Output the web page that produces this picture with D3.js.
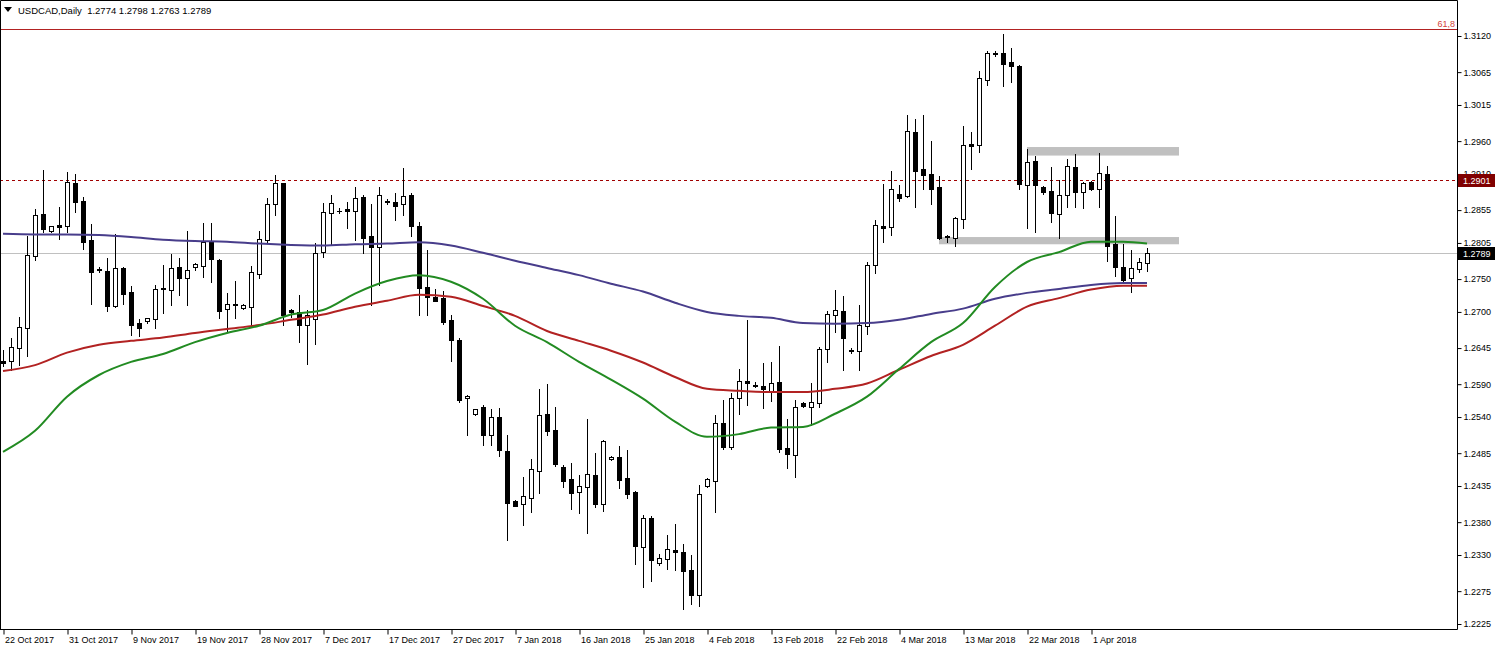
<!DOCTYPE html>
<html><head><meta charset="utf-8">
<script src="https://cdn.jsdelivr.net/npm/d3@7"></script>
<style>
html,body{margin:0;padding:0;background:#fff;}
svg{display:block;}
text{font-family:"Liberation Sans",Arial,sans-serif;}
</style>
</head><body>
<svg id="c" width="1497" height="649"></svg>
<script>
// ---------- DATA ----------
const symbol = "USDCAD,Daily";
const opens = [1.2626,1.2625,1.2645,1.2676,1.2785,1.2849,1.2823,1.2833,1.2831,1.2896,1.2869,1.2810,1.2765,1.2763,1.2709,1.2767,1.2731,1.2683,1.2686,1.2689,
1.2735,1.2734,1.2769,1.2752,1.2769,1.2770,1.2807,1.2779,1.2705,1.2712,1.2706,1.2708,1.2758,1.2810,1.2865,1.2896,1.2703,1.2700,1.2680,1.2690,
1.2791,1.2851,1.2854,1.2857,1.2854,1.2875,1.2816,1.2799,1.2869,1.2868,1.2865,1.2878,1.2831,1.2738,1.2723,1.2721,1.2688,1.2658,1.2569,1.2545,
1.2556,1.2513,1.2540,1.2489,1.2412,1.2408,1.2417,1.2458,1.2545,1.2521,1.2464,1.2446,1.2426,1.2434,1.2452,1.2408,1.2476,1.2479,1.2447,1.2426,
1.2342,1.2387,1.2318,1.2324,1.2338,1.2335,1.2307,1.2269,1.2435,1.2443,1.2531,1.2495,1.2569,1.2595,1.2589,1.2588,1.2578,1.2594,1.2493,1.2482,
1.2562,1.2556,1.2562,1.2644,1.2696,1.2702,1.2642,1.2641,1.2679,1.2772,1.2831,1.2830,1.2880,1.2877,1.2974,1.2918,1.2910,1.2890,1.2815,1.2813,
1.2842,1.2956,1.2954,1.3053,1.3094,1.3094,1.3081,1.3075,1.2893,1.2930,1.2890,1.2884,1.2849,1.2878,1.2921,1.2883,1.2898,1.2887,1.2910,1.2804,
1.2769,1.2752,1.2766,1.2774];
const highs = [1.2642,1.2661,1.2693,1.2816,1.2857,1.2916,1.2831,1.2860,1.2913,1.2910,1.2875,1.2834,1.2769,1.2782,1.2819,1.2768,1.2740,1.2689,1.2691,1.2741,
1.2772,1.2788,1.2782,1.2823,1.2774,1.2836,1.2836,1.2780,1.2729,1.2747,1.2712,1.2770,1.2823,1.2874,1.2909,1.2897,1.2704,1.2726,1.2703,1.2805,
1.2866,1.2878,1.2858,1.2868,1.2890,1.2878,1.2865,1.2890,1.2872,1.2881,1.2919,1.2881,1.2837,1.2795,1.2735,1.2732,1.2696,1.2661,1.2573,1.2553,
1.2559,1.2552,1.2554,1.2513,1.2414,1.2449,1.2476,1.2583,1.2591,1.2556,1.2467,1.2470,1.2452,1.2537,1.2486,1.2505,1.2481,1.2496,1.2490,1.2427,
1.2391,1.2390,1.2332,1.2361,1.2377,1.2347,1.2330,1.2437,1.2447,1.2543,1.2566,1.2577,1.2613,1.2688,1.2594,1.2623,1.2624,1.2648,1.2537,1.2566,
1.2563,1.2592,1.2647,1.2702,1.2734,1.2724,1.2645,1.2711,1.2776,1.2840,1.2895,1.2915,1.2893,1.3000,1.2994,1.3000,1.2960,1.2907,1.2817,1.2844,
1.2983,1.2974,1.3067,1.3097,1.3097,1.3123,1.3102,1.3076,1.2948,1.2938,1.2892,1.2921,1.2901,1.2933,1.2941,1.2898,1.2899,1.2942,1.2922,1.2846,
1.2804,1.2795,1.2782,1.2798];
const lows = [1.2618,1.2612,1.2619,1.2633,1.2779,1.2822,1.2822,1.2811,1.2822,1.2852,1.2796,1.2712,1.2761,1.2702,1.2708,1.2712,1.2665,1.2664,1.2683,1.2676,
1.2699,1.2711,1.2726,1.2711,1.2764,1.2753,1.2746,1.2691,1.2670,1.2691,1.2705,1.2677,1.2752,1.2805,1.2848,1.2680,1.2693,1.2654,1.2621,1.2651,
1.2784,1.2802,1.2851,1.2828,1.2810,1.2790,1.2711,1.2741,1.2865,1.2840,1.2848,1.2816,1.2696,1.2696,1.2716,1.2682,1.2626,1.2563,1.2513,1.2543,
1.2498,1.2498,1.2481,1.2353,1.2404,1.2376,1.2396,1.2425,1.2513,1.2466,1.2434,1.2400,1.2394,1.2364,1.2403,1.2397,1.2475,1.2432,1.2417,1.2316,
1.2282,1.2291,1.2315,1.2309,1.2307,1.2248,1.2256,1.2253,1.2434,1.2396,1.2492,1.2492,1.2545,1.2559,1.2586,1.2554,1.2565,1.2487,1.2463,1.2448,
1.2556,1.2528,1.2556,1.2624,1.2670,1.2612,1.2638,1.2612,1.2667,1.2760,1.2807,1.2817,1.2869,1.2875,1.2860,1.2887,1.2865,1.2811,1.2807,1.2801,
1.2828,1.2918,1.2944,1.3046,1.3090,1.3044,1.3050,1.2887,1.2828,1.2822,1.2880,1.2837,1.2813,1.2860,1.2860,1.2858,1.2886,1.2860,1.2778,1.2755,
1.2746,1.2731,1.2761,1.2763];
const closes = [1.2623,1.2647,1.2677,1.2787,1.2848,1.2826,1.2831,1.2830,1.2898,1.2868,1.2807,1.2761,1.2764,1.2709,1.2767,1.2728,1.2680,1.2676,1.2691,1.2735,
1.2736,1.2767,1.2752,1.2764,1.2773,1.2807,1.2781,1.2702,1.2712,1.2711,1.2711,1.2761,1.2811,1.2865,1.2896,1.2696,1.2700,1.2680,1.2696,1.2790,
1.2852,1.2866,1.2853,1.2854,1.2874,1.2813,1.2799,1.2878,1.2868,1.2861,1.2877,1.2831,1.2737,1.2723,1.2717,1.2685,1.2658,1.2566,1.2572,1.2552,
1.2513,1.2540,1.2490,1.2409,1.2405,1.2420,1.2461,1.2543,1.2519,1.2469,1.2443,1.2425,1.2435,1.2454,1.2408,1.2504,1.2479,1.2444,1.2423,1.2344,
1.2387,1.2323,1.2326,1.2339,1.2335,1.2306,1.2269,1.2423,1.2446,1.2531,1.2495,1.2569,1.2595,1.2592,1.2588,1.2583,1.2592,1.2492,1.2484,1.2556,
1.2557,1.2563,1.2644,1.2697,1.2703,1.2661,1.2641,1.2680,1.2772,1.2833,1.2828,1.2887,1.2874,1.2976,1.2915,1.2909,1.2887,1.2813,1.2814,1.2843,
1.2954,1.2953,1.3056,1.3094,1.3093,1.3078,1.3075,1.2895,1.2928,1.2893,1.2883,1.2851,1.2878,1.2922,1.2883,1.2896,1.2887,1.2912,1.2801,1.2769,
1.2749,1.2767,1.2776,1.2789];

// moving averages, read at these bar indices
const maBars = [0,4,8,12,16,20,24,28,32,36,40,44,48,52,56,60,64,68,72,76,80,84,88,92,96,100,104,108,112,116,120,124,128,132,136,140,143];
const maBlue = [1.2819,1.2818,1.2818,1.2817,1.2814,1.2810,1.2808,1.2807,1.2804,1.2802,1.2801,1.2803,1.2804,1.2806,1.2801,1.2790,1.2778,1.2767,1.2756,1.2743,
1.2731,1.2714,1.2700,1.2694,1.2691,1.2683,1.2682,1.2683,1.2688,1.2697,1.2705,1.2720,1.2729,1.2735,1.2741,1.2744,1.2744];
const maGreen = [1.2487,1.2519,1.2571,1.2604,1.2624,1.2636,1.2654,1.2668,1.2679,1.2696,1.2703,1.2728,1.2747,1.2756,1.2746,1.2720,1.2679,1.2654,1.2624,1.2597,
1.2568,1.2533,1.2510,1.2514,1.2524,1.2525,1.2545,1.2571,1.2613,1.2654,1.2683,1.2738,1.2776,1.2791,1.2807,1.2807,1.2804];
const maRed = [1.2610,1.2619,1.2638,1.2650,1.2656,1.2661,1.2668,1.2674,1.2680,1.2688,1.2696,1.2708,1.2717,1.2726,1.2723,1.2709,1.2694,1.2671,1.2656,1.2641,
1.2623,1.2601,1.2583,1.2580,1.2578,1.2578,1.2583,1.2591,1.2612,1.2633,1.2650,1.2679,1.2708,1.2721,1.2734,1.2740,1.2740];

const priceTicks = [1.3120,1.3065,1.3015,1.2960,1.2910,1.2855,1.2805,1.2750,1.2700,1.2645,1.2590,1.2540,1.2485,1.2435,1.2380,1.2330,1.2275,1.2225];
const dateLabels = ["22 Oct 2017","31 Oct 2017","9 Nov 2017","19 Nov 2017","28 Nov 2017","7 Dec 2017","17 Dec 2017","27 Dec 2017","7 Jan 2018",
"16 Jan 2018","25 Jan 2018","4 Feb 2018","13 Feb 2018","22 Feb 2018","4 Mar 2018","13 Mar 2018","22 Mar 2018","1 Apr 2018"];
const barsPerLabel = 8;
const levelPrice = 1.2901;     // dashed horizontal line
const fiboPrice = 1.3131;      // fibo 61.8 level
const fiboText = "61,8";
const zoneFrom = [128, 117];
const zoneTo = [147, 147];
const zoneHigh = [1.2951, 1.2814];
const zoneLow = [1.2938, 1.2803];

// ---------- LAYOUT ----------
const W = 1497, H = 649;
const plotR = 1457, plotB = 629;
const FS = 9;
const n = opens.length;
const svg = d3.select("#c");
const x = d3.scaleLinear().domain([0, 1]).range([3, 11]);
const y = d3.scaleLinear().domain([1.2225, 1.3120]).range([624, 36]);
const px = v => Math.round(x(v));
const py = v => Math.round(y(v));

svg.append("defs").append("clipPath").attr("id","plot")
  .append("rect").attr("x",0).attr("y",0).attr("width",plotR).attr("height",plotB);
const g = svg.append("g").attr("clip-path","url(#plot)");

// zones (background)
g.selectAll("rect.zone").data(zoneFrom).join("rect").attr("class","zone")
  .attr("x",(d,i)=>x(d)).attr("width",(d,i)=>x(zoneTo[i])-x(d))
  .attr("y",(d,i)=>y(zoneHigh[i])).attr("height",(d,i)=>y(zoneLow[i])-y(zoneHigh[i]))
  .attr("fill","#c0c0c0");

// fibo line
g.append("line").attr("x1",0).attr("x2",plotR).attr("y1",py(fiboPrice)+0.5).attr("y2",py(fiboPrice)+0.5)
  .attr("stroke","#b22222").attr("stroke-width",1);
svg.append("text").attr("x",plotR-2).attr("y",py(fiboPrice)-2).attr("text-anchor","end")
  .attr("font-size",FS).attr("fill","#d43f3a").text(fiboText);

// level dashed line
g.append("line").attr("x1",0).attr("x2",plotR).attr("y1",py(levelPrice)+0.5).attr("y2",py(levelPrice)+0.5)
  .attr("stroke","#a00000").attr("stroke-width",1).attr("stroke-dasharray","3,3");

// last price line
const last = closes[n-1];
g.append("line").attr("x1",0).attr("x2",plotR).attr("y1",py(last)+0.5).attr("y2",py(last)+0.5)
  .attr("stroke","#c0c0c0").attr("stroke-width",1);

// candles
const idx = d3.range(n);
const cg = g.append("g");
cg.selectAll("line.wick").data(idx).join("line").attr("class","wick")
  .attr("x1",i=>px(i)+0.5).attr("x2",i=>px(i)+0.5)
  .attr("y1",i=>py(highs[i])).attr("y2",i=>py(lows[i])+1)
  .attr("stroke","#000").attr("stroke-width",1);
idx.forEach(i=>{
  const yt = py(Math.max(opens[i],closes[i])), yb = py(Math.min(opens[i],closes[i]));
  const cx = px(i);
  if (yb - yt < 1) {
    cg.append("line").attr("x1",cx-2).attr("x2",cx+3).attr("y1",yt+0.5).attr("y2",yt+0.5)
      .attr("stroke","#000").attr("stroke-width",1);
  } else {
    const up = closes[i] >= opens[i];
    cg.append("rect").attr("x",cx-2+0.5).attr("y",yt+0.5).attr("width",4).attr("height",yb-yt)
      .attr("fill", up ? "#fff" : "#000").attr("stroke","#000").attr("stroke-width",1);
  }
});

// moving averages
const line = d3.line().x(d=>x(d[0])).y(d=>y(d[1])).curve(d3.curveMonotoneX);
[[maBlue,"#483d8b"],[maRed,"#b22222"],[maGreen,"#228b22"]].forEach(([arr,col])=>{
  g.append("path").attr("d", line(maBars.map((b,k)=>[b,arr[k]])))
    .attr("fill","none").attr("stroke",col).attr("stroke-width",2);
});

// frame
svg.append("path").attr("d",`M0.5,${plotB}V0.5H${plotR+0.5}V${plotB+0.5}H0`)
  .attr("fill","none").attr("stroke","#000").attr("stroke-width",1);

// right axis
const ya = svg.append("g").attr("transform",`translate(${plotR+0.5},0)`)
  .call(d3.axisRight(y).tickValues(priceTicks).tickFormat(d3.format(".4f")).tickSize(4).tickPadding(2));
ya.select(".domain").remove();
ya.selectAll("line").attr("stroke","#000");
ya.selectAll("text").attr("font-size",FS).attr("fill","#000").style("font-family","'Liberation Sans',Arial,sans-serif");

// bottom axis
const xa = svg.append("g").attr("transform",`translate(0.5,${plotB+0.5})`)
  .call(d3.axisBottom(x).tickValues(dateLabels.map((d,k)=>k*barsPerLabel))
    .tickFormat((d,k)=>dateLabels[k]).tickSize(5).tickPadding(2));
xa.select(".domain").remove();
xa.selectAll("line").attr("stroke","#000");
xa.selectAll("text").attr("font-size",FS).attr("fill","#000").attr("text-anchor","start").attr("dx",1)
  .style("font-family","'Liberation Sans',Arial,sans-serif");

// price labels
function tag(price, bg) {
  const yy = py(price);
  svg.append("rect").attr("x",plotR+1).attr("y",yy-6).attr("width",W-plotR-3).attr("height",13).attr("fill",bg);
  svg.append("text").attr("x",plotR+6).attr("y",yy+4).attr("font-size",FS).attr("fill","#fff")
    .text(d3.format(".4f")(price));
}
tag(levelPrice, "#800000");
tag(last, "#000");

// header
svg.append("path").attr("d","M4,7H12L8,12Z").attr("fill","#000");
svg.append("text").attr("x",18).attr("y",14).attr("font-size",9.5).attr("fill","#000")
  .style("white-space","pre")
  .text(`${symbol}  ${[opens[n-1],highs[n-1],lows[n-1],closes[n-1]].map(d3.format(".4f")).join(" ")}`);
</script>
</body></html>
